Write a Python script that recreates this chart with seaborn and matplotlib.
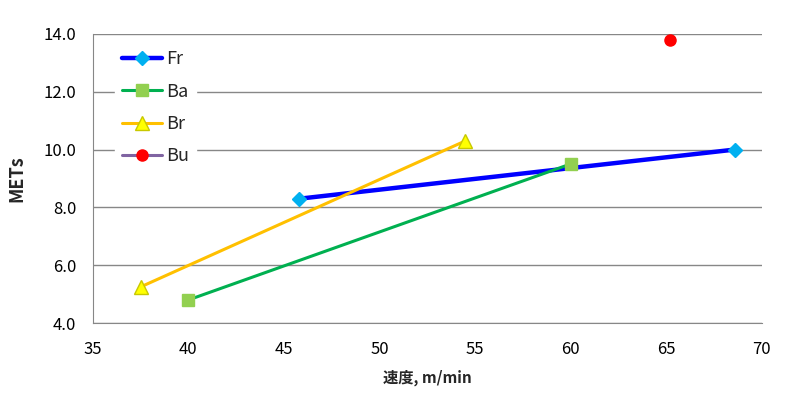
import matplotlib
matplotlib.use("Agg")
import matplotlib.pyplot as plt
import seaborn as sns
import pandas as pd

# series data
series = ["Fr", "Ba", "Br", "Bu"]
fr_x = [45.8, 68.6]
fr_y = [8.3, 10.0]
ba_x = [40.0, 60.0]
ba_y = [4.8, 9.5]
br_x = [37.5, 54.5]
br_y = [5.25, 10.3]
bu_x = [65.2]
bu_y = [13.8]

x_ticks = [35, 40, 45, 50, 55, 60, 65, 70]
y_ticks = [4.0, 6.0, 8.0, 10.0, 12.0, 14.0]

styles = {
    "Fr": dict(color="#0000FF", marker="D", mfc="#00B0F0", mec="#00B0F0", ms=7, lw=3.2),
    "Ba": dict(color="#00B050", marker="s", mfc="#92D050", mec="#92D050", ms=9, lw=2.2),
    "Br": dict(color="#FFC000", marker="^", mfc="#FFFF00", mec="#C8C800", ms=10, lw=2.2),
    "Bu": dict(color="#8064A2", marker="o", mfc="#FF0000", mec="#FF0000", ms=8, lw=2.2),
}

df = pd.concat([
    pd.DataFrame({"speed": fr_x, "mets": fr_y, "series": "Fr"}),
    pd.DataFrame({"speed": ba_x, "mets": ba_y, "series": "Ba"}),
    pd.DataFrame({"speed": br_x, "mets": br_y, "series": "Br"}),
    pd.DataFrame({"speed": bu_x, "mets": bu_y, "series": "Bu"}),
])

sns.set_style("white")
plt.rcParams["font.family"] = ["Noto Sans CJK JP", "DejaVu Sans"]

fig = plt.figure(figsize=(8, 3.94), dpi=100)
ax = fig.add_axes([0.116, 0.18, 0.836, 0.734])

for name in series:
    st = styles[name]
    sub = df[df["series"] == name]
    sns.lineplot(data=sub, x="speed", y="mets", ax=ax, color=st["color"],
                 linewidth=st["lw"], marker=st["marker"], markersize=st["ms"],
                 markerfacecolor=st["mfc"], markeredgecolor=st["mec"],
                 markeredgewidth=1, label=name, zorder=3)

ax.set_xlim(35, 70)
ax.set_ylim(4, 14)
ax.set_xticks(x_ticks)
ax.set_yticks(y_ticks)
ax.set_yticklabels([f"{v:.1f}" for v in y_ticks])
ax.grid(axis="y", color="#878787", linewidth=1)
ax.grid(axis="x", visible=False)
for s in ["top", "right"]:
    ax.spines[s].set_visible(False)
for s in ["left", "bottom"]:
    ax.spines[s].set_color("#878787")
ax.tick_params(axis="both", direction="out", length=5, color="#878787",
               labelsize=12, labelcolor="black")
ax.tick_params(axis="y", direction="inout", length=8, pad=8)
ax.tick_params(axis="x", pad=8)

ax.set_xlabel("速度, m/min", fontsize=11, fontweight="bold", labelpad=8)
ax.set_ylabel("METs", fontsize=13, fontweight="bold", labelpad=12)

leg = ax.legend(loc="upper left", bbox_to_anchor=(0.02, 1.0), frameon=True,
                fontsize=13, handlelength=2.2, labelspacing=0.8,
                handletextpad=0.2, borderpad=0.4)
leg.get_frame().set_facecolor("white")
leg.get_frame().set_edgecolor("white")
leg.get_frame().set_alpha(1)

fig.savefig("out.png", dpi=100)
